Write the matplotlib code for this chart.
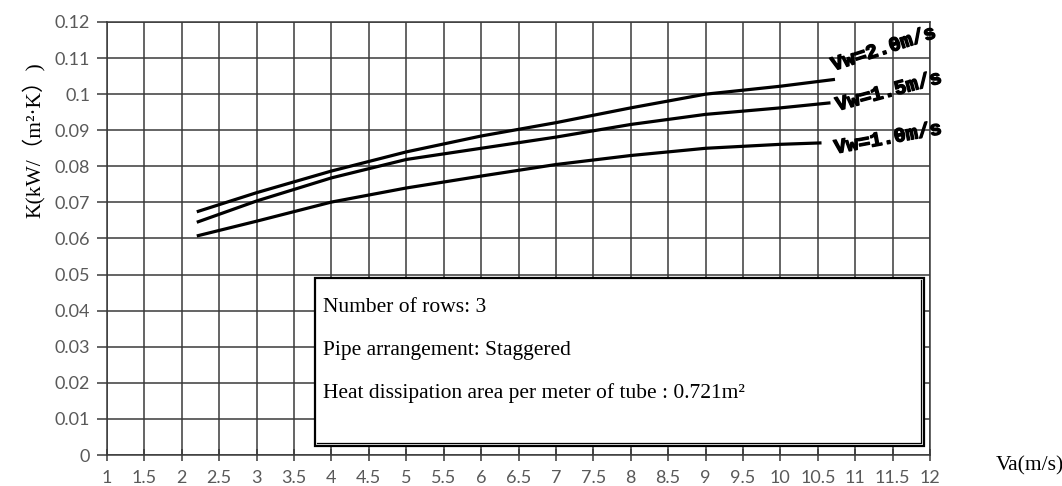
import matplotlib
matplotlib.use("Agg")
import matplotlib.pyplot as plt
from matplotlib.patches import Rectangle
from matplotlib.lines import Line2D
import matplotlib.patheffects as pe

# ---- data ----
va_20 = [2.2, 3, 4, 5, 6, 7, 8, 9, 10, 10.73]
k_20 = [0.0674, 0.0727, 0.0787, 0.0840, 0.0884, 0.0921, 0.0962, 0.1000, 0.1022, 0.1041]
va_15 = [2.2, 3, 4, 5, 6, 7, 8, 9, 10, 10.67]
k_15 = [0.0645, 0.0704, 0.0768, 0.0819, 0.0850, 0.0881, 0.0916, 0.0944, 0.0962, 0.0976]
va_10 = [2.2, 3, 4, 5, 6, 7, 8, 9, 10, 10.55]
k_10 = [0.0607, 0.0648, 0.0701, 0.0740, 0.0773, 0.0805, 0.0830, 0.0850, 0.0861, 0.0865]

series_labels = ["Vw=2.0m/s", "Vw=1.5m/s", "Vw=1.0m/s"]
x_ticks = [1 + 0.5 * i for i in range(23)]
x_tick_labels = [("%g" % v) for v in x_ticks]
y_ticks = [0.01 * i for i in range(13)]
y_tick_labels = ["0"] + [("%g" % round(v, 2)) for v in y_ticks[1:]]

info_lines = ["Number of rows: 3",
              "Pipe arrangement: Staggered",
              "Heat dissipation area per meter of tube : 0.721m²"]

fig = plt.figure(figsize=(10.62, 4.86), dpi=100)
ax = fig.add_axes([107/1062, 1-455/486, (930-107)/1062, (455-22)/486])

grid_c = "#3a3a3a"
ax.set_xlim(1, 12)
ax.set_ylim(0, 0.12)
ax.set_xticks(x_ticks)
ax.set_xticklabels(x_tick_labels, fontsize=13, color="#595959", family="Lato")
ax.set_yticks(y_ticks)
ax.set_yticklabels(y_tick_labels, fontsize=13, color="#595959", family="Lato")
ax.grid(True, color=grid_c, linewidth=1.1)
for s in ax.spines.values():
    s.set_color(grid_c)
    s.set_linewidth(1.1)
ax.tick_params(axis="y", direction="out", length=7, width=1.1, color=grid_c, pad=5)
ax.tick_params(axis="x", direction="inout", length=9, width=1.1, color=grid_c, pad=6)

for xs, ys in [(va_20, k_20), (va_15, k_15), (va_10, k_10)]:
    ax.plot(xs, ys, color="black", linewidth=2.3, solid_capstyle="butt",
            solid_joinstyle="round", zorder=3, clip_on=False)

label_pos = [(11.38, 0.1126, 18), (11.45, 0.1008, 15), (11.44, 0.0878, 10.5)]
for lab, (lx, ly, rot) in zip(series_labels, label_pos):
    ax.text(lx, ly, lab, family="Liberation Mono", fontweight="bold", fontsize=14.5,
            rotation=rot, rotation_mode="anchor", ha="center", va="center",
            clip_on=False, zorder=5,
            path_effects=[pe.withStroke(linewidth=1.0, foreground="black")])

# info box (in figure pixels)
W, H = 1062, 486
bx0, by0, bx1, by1 = 315, 278, 924, 446
rect = Rectangle((bx0/W, 1-by1/H), (bx1-bx0)/W, (by1-by0)/H, transform=fig.transFigure,
                 facecolor="white", edgecolor="black", linewidth=1.6, zorder=4)
fig.patches.append(rect)
# thin inner double line on right and bottom edges
fig.lines.append(Line2D([(bx0+2)/W, (bx1-3)/W, (bx1-3)/W],
                        [1-(by1-3)/H, 1-(by1-3)/H, 1-(by0+2)/H],
                        transform=fig.transFigure, color="black", linewidth=0.9, zorder=5))
for t, yy in zip(info_lines, [307, 350, 393]):
    fig.text(323/W, 1-yy/H, t, family="Liberation Serif", fontsize=15.5,
             ha="left", va="center", zorder=6)

fig.text(33/W, 1-140/H, "K(kW/（m²·K）)", rotation=90, ha="center", va="center",
         fontsize=15.5, family=["Liberation Serif", "Noto Sans CJK SC", "DejaVu Sans"])
fig.text(1030/W, 1-466/H, "Va(m/s)", ha="center", va="center", fontsize=15.5,
         family="Liberation Serif")

fig.savefig("out.png", dpi=100)
